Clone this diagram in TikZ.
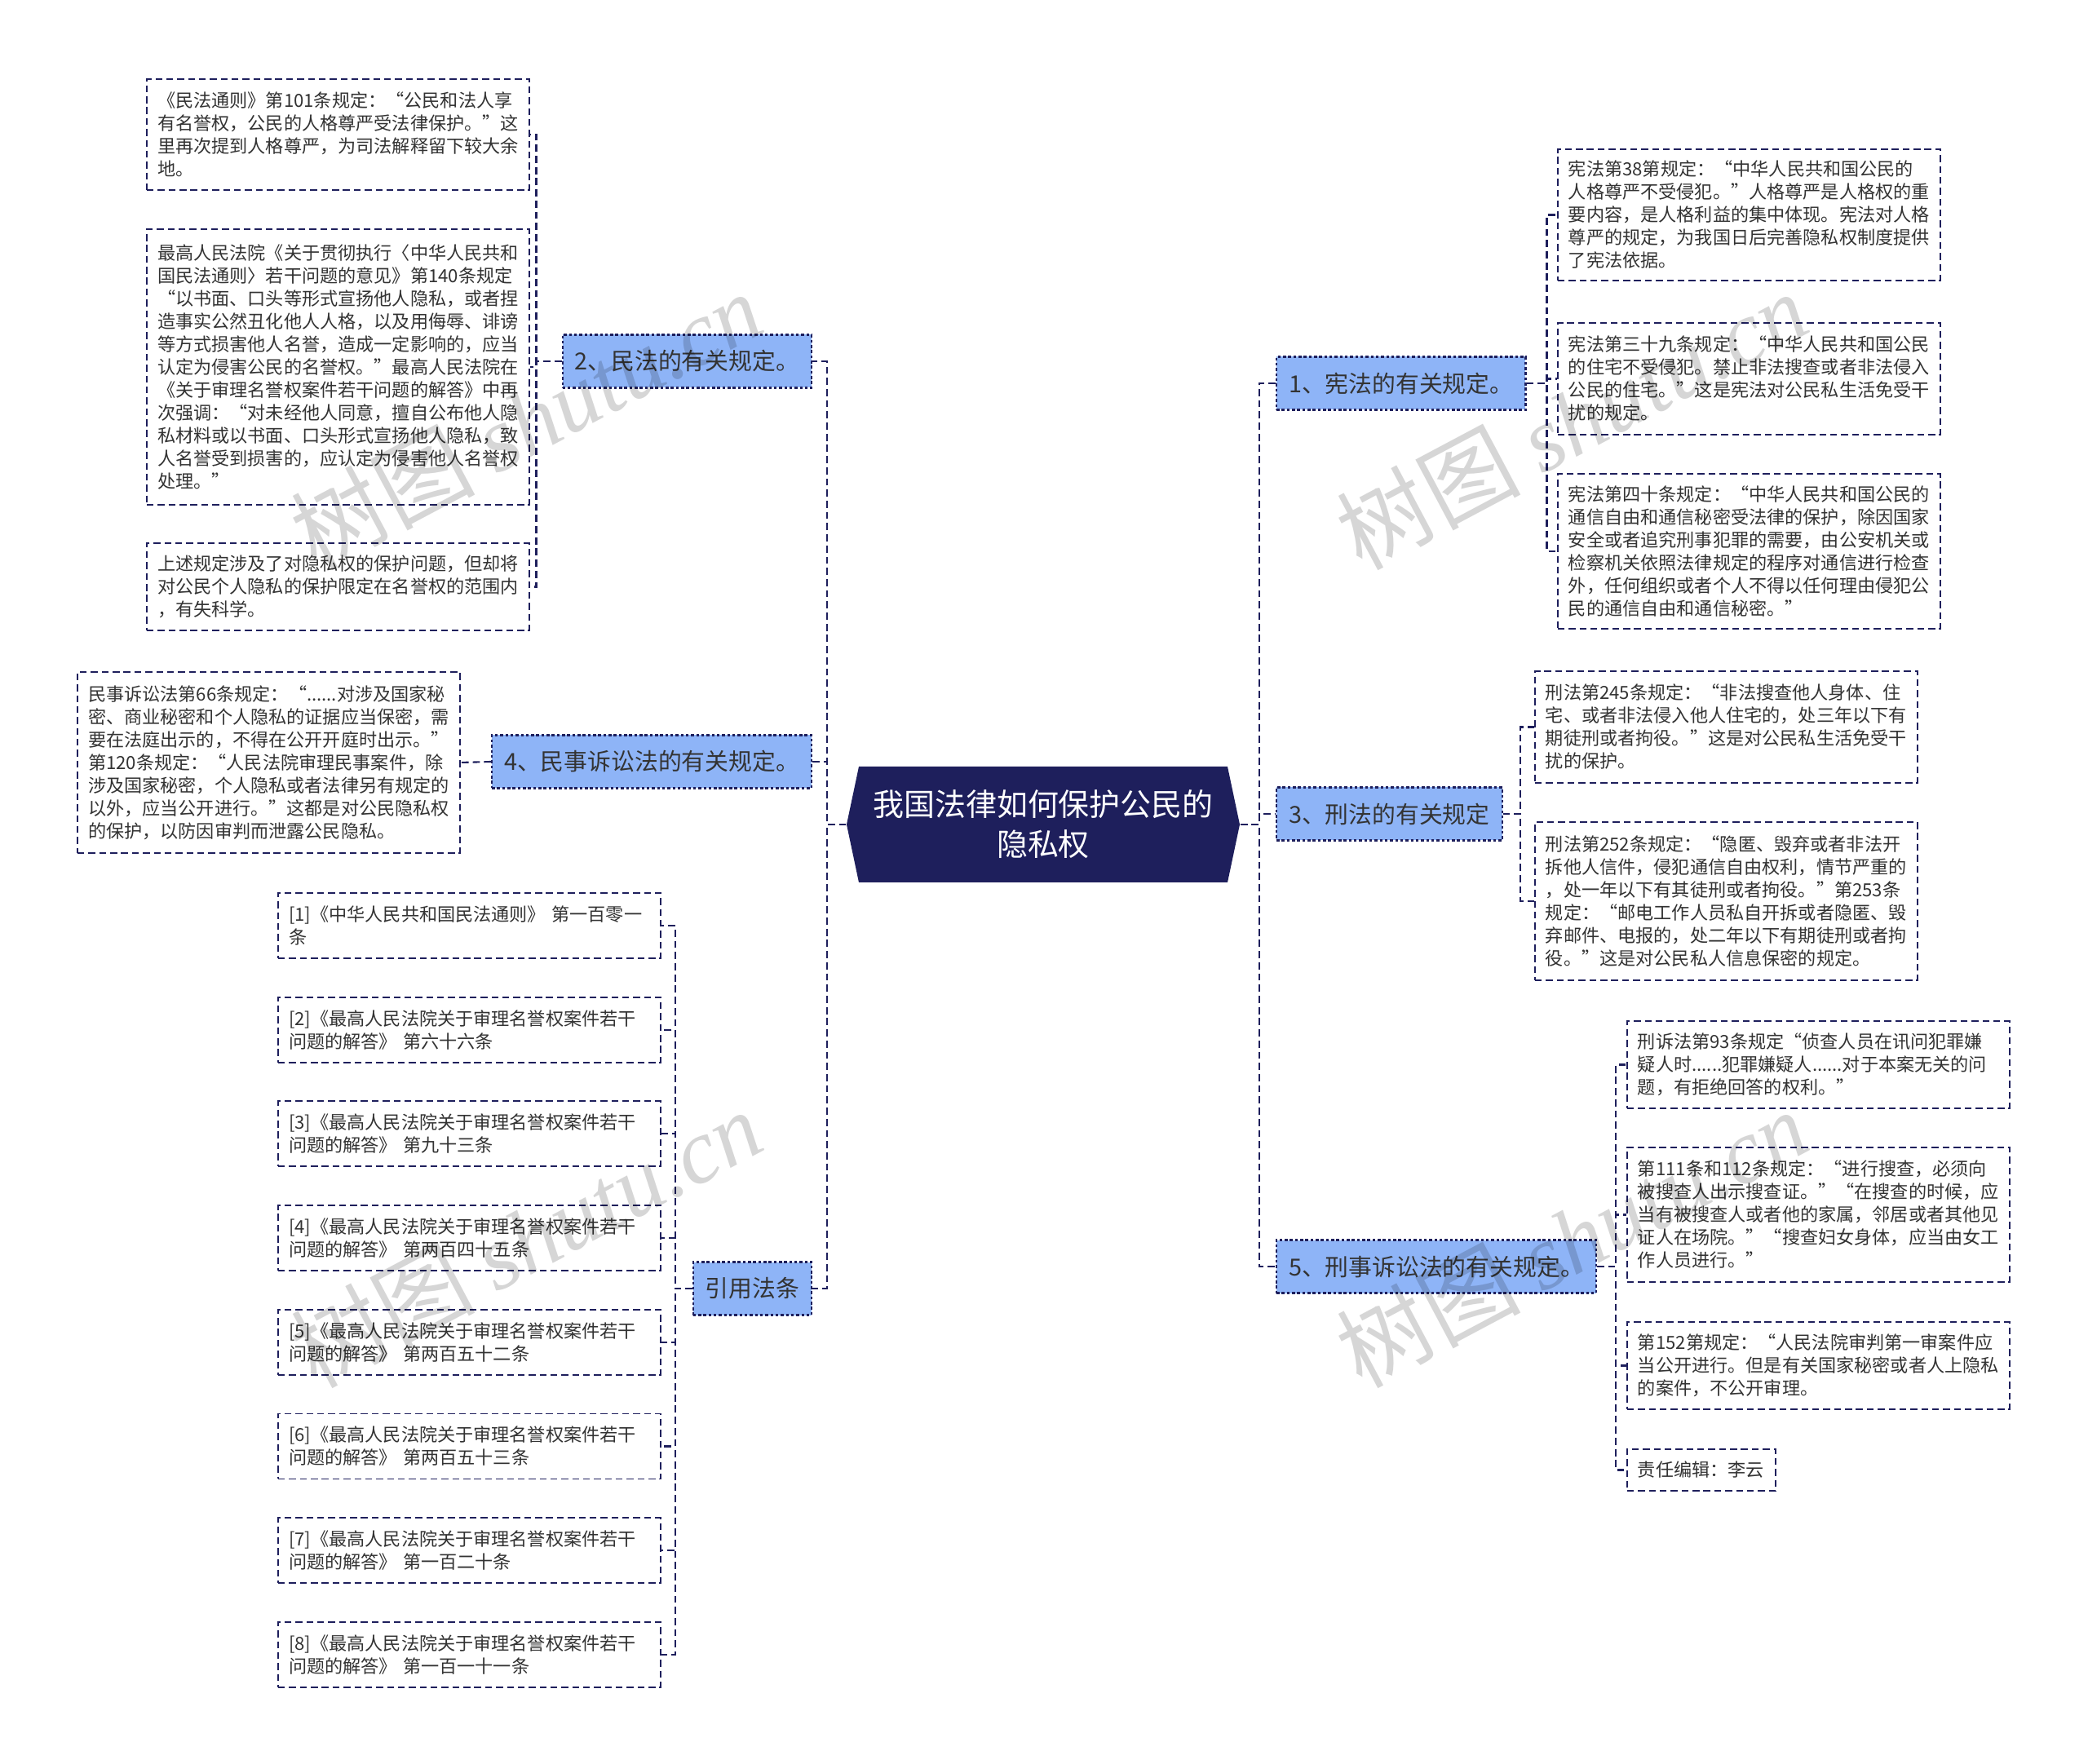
\documentclass[tikz,border=0pt]{standalone}
\usepackage{fontspec}
\setmainfont{Noto Sans CJK SC}
\newfontfamily\wmlatin{Liberation Serif}
\usetikzlibrary{positioning}
\definecolor{mapnavy}{RGB}{30,31,92}
\definecolor{mapblue}{RGB}{142,180,247}
\definecolor{maptext}{RGB}{51,51,51}
\tikzset{
  rootbox/.style={minimum width=4.82cm, minimum height=1.42cm, align=center, text=white,
              font=\fontsize{10.8pt}{13.9pt}\selectfont},
  branch/.style={draw=mapnavy, fill=mapblue, line width=0.6pt, dash pattern=on 1pt off 0.8pt,
              minimum height=0.65cm, inner xsep=0.15cm, text=maptext, font=\fontsize{8.2pt}{9.5pt}\selectfont},
  leaf/.style={draw=mapnavy, fill=white, line width=0.55pt, dash pattern=on 2.4pt off 1.4pt,
              text width=4.43cm, inner xsep=0.13cm, inner ysep=0.08cm, align=left, text=maptext,
              font=\fontsize{6.3pt}{7.97pt}\selectfont},
  link/.style={mapnavy, line width=0.6pt, dash pattern=on 2.5pt off 1.4pt},
  wmark/.style={rotate=28, text=black, text opacity=0.16, font=\fontsize{32pt}{32pt}\selectfont},
}

\begin{document}
\begin{tikzpicture}
    \useasboundingbox (0,0) rectangle (25.6,-21.63);
    \fill[white] (0,0) rectangle (25.6,-21.63);
    % centre
    \fill[mapnavy] (10.38,-10.11) -- (10.53,-9.40) -- (15.05,-9.40) -- (15.20,-10.11)
      -- (15.05,-10.82) -- (10.53,-10.82) -- cycle;
    \node[rootbox] (root) at (12.79,-10.11) {我国法律如何保护公民的\\隐私权};
    % branches
    \node[branch, anchor=west] (b1) at (15.64,-4.70) {1、宪法的有关规定。};
    \node[branch, anchor=east] (b2) at (9.96,-4.43) {2、民法的有关规定。};
    \node[branch, anchor=west] (b3) at (15.64,-9.98) {3、刑法的有关规定};
    \node[branch, anchor=east] (b4) at (9.96,-9.34) {4、民事诉讼法的有关规定。};
    \node[branch, anchor=west] (b5) at (15.64,-15.53) {5、刑事诉讼法的有关规定。};
    \node[branch, anchor=east] (b6) at (9.96,-15.80) {引用法条};
    % left leaves
    \node[leaf, anchor=north east, minimum height=1.36cm] (l21) at (6.50,-0.96)
      {《民法通则》第101条规定：“公民和法人享\\有名誉权，公民的人格尊严受法律保护。”这\\里再次提到人格尊严，为司法解释留下较大余\\地。};
    \node[leaf, anchor=north east, minimum height=3.38cm] (l22) at (6.50,-2.80)
      {最高人民法院《关于贯彻执行〈中华人民共和\\国民法通则〉若干问题的意见》第140条规定\\“以书面、口头等形式宣扬他人隐私，或者捏\\造事实公然丑化他人人格，以及用侮辱、诽谤\\等方式损害他人名誉，造成一定影响的，应当\\认定为侵害公民的名誉权。”最高人民法院在\\《关于审理名誉权案件若干问题的解答》中再\\次强调：“对未经他人同意，擅自公布他人隐\\私材料或以书面、口头形式宣扬他人隐私，致\\人名誉受到损害的，应认定为侵害他人名誉权\\处理。”};
    \node[leaf, anchor=north east, minimum height=1.07cm] (l23) at (6.50,-6.65)
      {上述规定涉及了对隐私权的保护问题，但却将\\对公民个人隐私的保护限定在名誉权的范围内\\，有失科学。};
    \node[leaf, anchor=north east, minimum height=2.22cm] (l41) at (5.65,-8.23)
      {民事诉讼法第66条规定：“......对涉及国家秘\\密、商业秘密和个人隐私的证据应当保密，需\\要在法庭出示的，不得在公开开庭时出示。”\\第120条规定：“人民法院审理民事案件，除\\涉及国家秘密，个人隐私或者法律另有规定的\\以外，应当公开进行。”这都是对公民隐私权\\的保护，以防因审判而泄露公民隐私。};
    \node[leaf, anchor=north east, minimum height=0.80cm] (c1) at (8.11,-10.94)
      {[1]《中华人民共和国民法通则》~第一百零一\\条};
    \foreach \i/\artno in {2/六十六,3/九十三,4/两百四十五,5/两百五十二,6/两百五十三,7/一百二十,8/一百一十一}{
      \pgfmathsetmacro\ytop{-10.94-1.277*(\i-1)}
      \node[leaf, anchor=north east, minimum height=0.80cm] (c\i) at (8.11,\ytop)
        {[\i]《最高人民法院关于审理名誉权案件若干\\问题的解答》~第\artno 条};
    }
    % right leaves
    \node[leaf, anchor=north west, minimum height=1.61cm] (r11) at (19.09,-1.82)
      {宪法第38第规定：“中华人民共和国公民的\\人格尊严不受侵犯。”人格尊严是人格权的重\\要内容，是人格利益的集中体现。宪法对人格\\尊严的规定，为我国日后完善隐私权制度提供\\了宪法依据。};
    \node[leaf, anchor=north west, minimum height=1.37cm] (r12) at (19.09,-3.95)
      {宪法第三十九条规定：“中华人民共和国公民\\的住宅不受侵犯。禁止非法搜查或者非法侵入\\公民的住宅。”这是宪法对公民私生活免受干\\扰的规定。};
    \node[leaf, anchor=north west, minimum height=1.90cm] (r13) at (19.09,-5.80)
      {宪法第四十条规定：“中华人民共和国公民的\\通信自由和通信秘密受法律的保护，除因国家\\安全或者追究刑事犯罪的需要，由公安机关或\\检察机关依照法律规定的程序对通信进行检查\\外，任何组织或者个人不得以任何理由侵犯公\\民的通信自由和通信秘密。”};
    \node[leaf, anchor=north west, minimum height=1.37cm] (r31) at (18.81,-8.22)
      {刑法第245条规定：“非法搜查他人身体、住\\宅、或者非法侵入他人住宅的，处三年以下有\\期徒刑或者拘役。”这是对公民私生活免受干\\扰的保护。};
    \node[leaf, anchor=north west, minimum height=1.94cm] (r32) at (18.81,-10.07)
      {刑法第252条规定：“隐匿、毁弃或者非法开\\拆他人信件，侵犯通信自由权利，情节严重的\\，处一年以下有其徒刑或者拘役。”第253条\\规定：“邮电工作人员私自开拆或者隐匿、毁\\弃邮件、电报的，处二年以下有期徒刑或者拘\\役。”这是对公民私人信息保密的规定。};
    \node[leaf, anchor=north west, minimum height=1.07cm] (r51) at (19.94,-12.51)
      {刑诉法第93条规定“侦查人员在讯问犯罪嫌\\疑人时......犯罪嫌疑人......对于本案无关的问\\题，有拒绝回答的权利。”};
    \node[leaf, anchor=north west, minimum height=1.65cm] (r52) at (19.94,-14.06)
      {第111条和112条规定：“进行搜查，必须向\\被搜查人出示搜查证。”“在搜查的时候，应\\当有被搜查人或者他的家属，邻居或者其他见\\证人在场院。”“搜查妇女身体，应当由女工\\作人员进行。”};
    \node[leaf, anchor=north west, minimum height=1.07cm] (r53) at (19.94,-16.20)
      {第152第规定：“人民法院审判第一审案件应\\当公开进行。但是有关国家秘密或者人上隐私\\的案件，不公开审理。};
    \node[leaf, anchor=north west, minimum height=0.51cm, text width=1.56cm] (r54) at (19.94,-17.76)
      {责任编辑：李云};
    % connectors
    \foreach \b in {b2,b4,b6} \draw[link] (root.west) -- ++(-0.23,0) |- (\b.east);
    \foreach \b in {b1,b3,b5} \draw[link] (root.east) -- ++(0.23,0) |- (\b.west);
    \foreach \n in {l21,l22,l23} \draw[link] (b2.west) -- ++(-0.31,0) |- (\n.east);
    \draw[link] (b4.west) -- (l41.east);
    \foreach \i in {1,...,8} \draw[link] (b6.west) -- ++(-0.21,0) |- (c\i.east);
    \foreach \n in {r11,r12,r13} \draw[link] (b1.east) -- ++(0.25,0) |- (\n.west);
    \foreach \n in {r31,r32} \draw[link] (b3.east) -- ++(0.21,0) |- (\n.west);
    \foreach \n in {r51,r52,r53,r54} \draw[link] (b5.east) -- ++(0.23,0) |- (\n.west);
    % watermark
    \foreach \x/\y [count=\k] in {6.45/-5.15, 19.27/-5.15, 6.45/-15.18, 19.27/-15.18}
      \node[wmark] (wm\k) at (\x,\y) {树图 {\wmlatin\itshape shutu.cn}};
\end{tikzpicture}
\end{document}
